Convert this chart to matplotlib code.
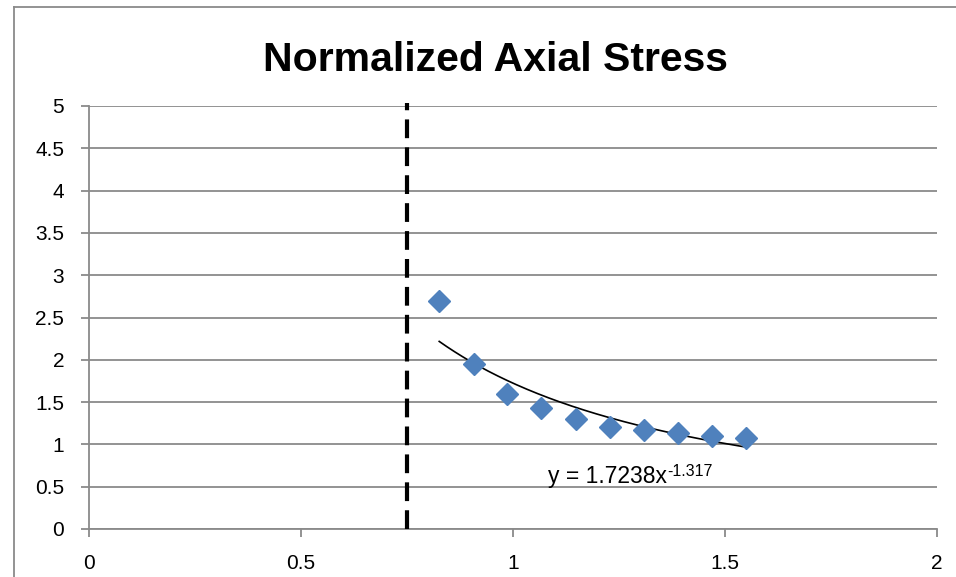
import numpy as np
import matplotlib
matplotlib.use("Agg")
import matplotlib.pyplot as plt
from matplotlib.lines import Line2D

title = "Normalized Axial Stress"
x_vals = [0.826, 0.907, 0.987, 1.067, 1.148, 1.228, 1.308, 1.388, 1.469, 1.549]
y_vals = [2.70, 1.95, 1.60, 1.43, 1.30, 1.21, 1.17, 1.13, 1.10, 1.08]
fit_a = 1.7238
fit_b = -1.317
vline_x = 0.75
x_ticks = [0, 0.5, 1, 1.5, 2]
x_tick_labels = ["0", "0.5", "1", "1.5", "2"]
y_ticks = [0, 0.5, 1, 1.5, 2, 2.5, 3, 3.5, 4, 4.5, 5]
y_tick_labels = ["0", "0.5", "1", "1.5", "2", "2.5", "3", "3.5", "4", "4.5", "5"]

plt.rcParams['font.family'] = ['Liberation Sans', 'DejaVu Sans']

W, H = 956, 577
fig = plt.figure(figsize=(W / 100, H / 100), dpi=100)
ax = fig.add_axes([89 / W, (H - 529) / H, (937 - 89) / W, (529 - 106) / H])

grid_c = "#8a8a8a"
ax.set_xlim(0, 2)
ax.set_ylim(0, 5)
ax.set_yticks(y_ticks)
ax.set_yticklabels(y_tick_labels)
ax.set_xticks(x_ticks)
ax.set_xticklabels(x_tick_labels)
ax.yaxis.grid(True, color=grid_c, linewidth=1.3)
ax.set_axisbelow(True)
for s in ["top", "right"]:
    ax.spines[s].set_visible(False)
for s in ["left", "bottom"]:
    ax.spines[s].set_color(grid_c)
    ax.spines[s].set_linewidth(1.3)
ax.tick_params(axis='y', direction='out', length=6, width=1.3, color=grid_c,
               pad=12, labelsize=15, labelcolor='black')
ax.tick_params(axis='x', direction='out', length=6, width=1.3, color=grid_c,
               pad=12, labelsize=15, labelcolor='black')

# dashed vertical line
ax.plot([vline_x, vline_x], [0, 5.03], color='black', linewidth=3,
        dashes=(4.5, 2.2), clip_on=False, zorder=3)

# trendline
xf = np.linspace(min(x_vals), max(x_vals), 200)
ax.plot(xf, fit_a * xf ** fit_b, color='black', linewidth=1.2, zorder=4)

# data points
ax.plot(x_vals, y_vals, linestyle='none', marker='D', markersize=11,
        color='#4F81BD', markeredgecolor='#4F81BD', zorder=5)

# equation
t = ax.text(1.082, 0.54, "y = %.4fx" % fit_a, fontsize=16.5,
            ha='left', va='baseline', color='black')
ax.annotate("%.3f" % fit_b, xy=(1.0, 1.0), xycoords=t, xytext=(0.5, 1),
            textcoords='offset points', fontsize=11.5,
            ha='left', va='top', color='black')

# title
fig.text(495 / W, 1 - 60 / H, title, fontsize=29.5, fontweight='bold',
         ha='center', va='center')

# chart border
fig.add_artist(Line2D([14 / W, 14 / W], [1 - 7 / H, 0], color=grid_c, linewidth=1.3,
                      transform=fig.transFigure))
fig.add_artist(Line2D([14 / W, 1], [1 - 7 / H, 1 - 7 / H], color=grid_c, linewidth=1.3,
                      transform=fig.transFigure))

fig.savefig("out.png", dpi=100)
